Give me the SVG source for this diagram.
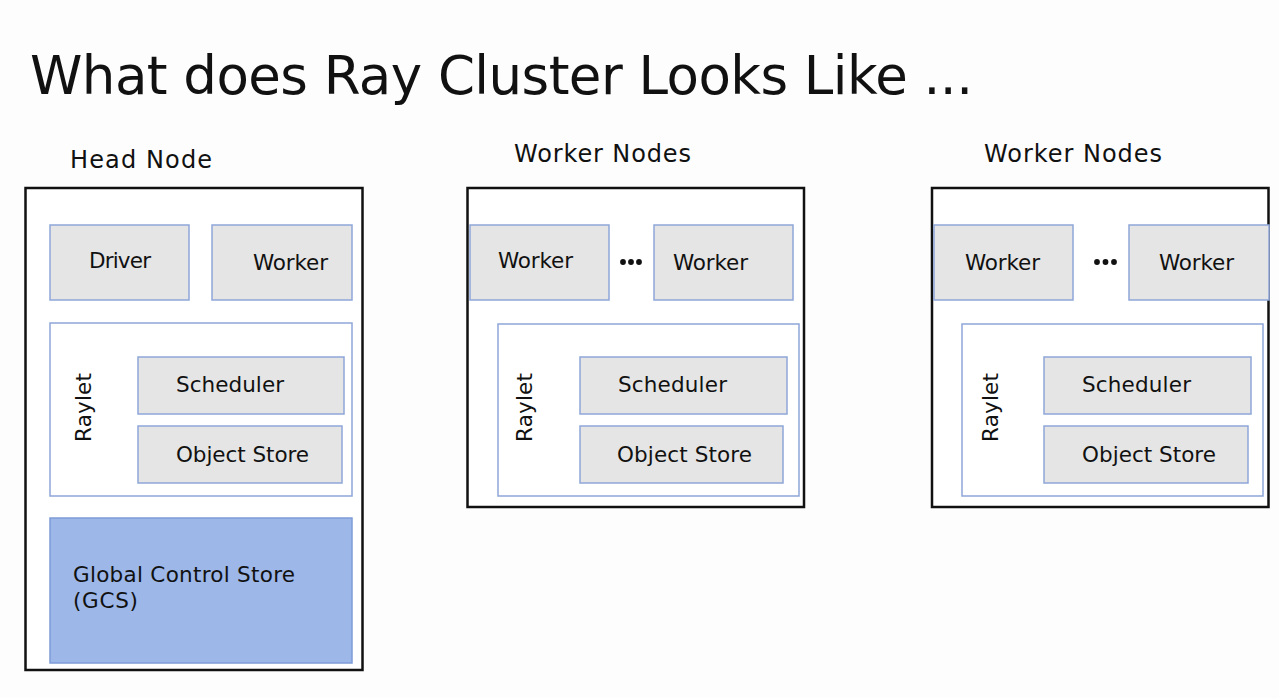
<svg xmlns="http://www.w3.org/2000/svg" width="1279" height="698" viewBox="0 0 1279 698">
  <style>
    text { font-family: "DejaVu Sans", "Liberation Sans", sans-serif; fill: #111; font-weight: 400; }
    .title { font-size: 53px; }
    .hdr { font-size: 24px; }
    .lbl { font-size: 21.5px; }
    .outer { fill: #ffffff; stroke: #111; stroke-width: 2.5; }
    .box { fill: #e5e5e5; stroke: #8ea6d9; stroke-width: 1.5; }
    .raylet { fill: #ffffff; stroke: #8ea6d9; stroke-width: 1.5; }
    .gcs { fill: #9cb7e8; stroke: #7e9cd8; stroke-width: 1.5; }
    .dot { fill: #111; }
  </style>
  <rect x="0" y="0" width="1279" height="698" fill="#fdfdfd"/>
  <text class="title" x="30" y="94" textLength="943">What does Ray Cluster Looks Like ...</text>

  <g id="head-node">
    <text class="hdr" x="70" y="168" textLength="142">Head Node</text>
    <rect class="outer" x="25.5" y="188" width="337" height="482"/>
    <g id="head-driver">
      <rect class="box" x="50" y="225" width="139" height="75"/>
      <text class="lbl" x="89" y="268" textLength="62">Driver</text>
    </g>
    <g id="head-worker">
      <rect class="box" x="212" y="225" width="140" height="75"/>
      <text class="lbl" x="253" y="270" textLength="75">Worker</text>
    </g>
    <g id="head-raylet">
      <rect class="raylet" x="50" y="323" width="302" height="173"/>
      <text class="lbl" transform="translate(90.5,407.5) rotate(-90)" text-anchor="middle" textLength="69">Raylet</text>
      <g id="head-scheduler">
        <rect class="box" x="138" y="357" width="206" height="57"/>
        <text class="lbl" x="176" y="392" textLength="108">Scheduler</text>
      </g>
      <g id="head-objectstore">
        <rect class="box" x="138" y="426" width="204" height="57"/>
        <text class="lbl" x="176" y="462" textLength="133">Object Store</text>
      </g>
    </g>
    <g id="head-gcs">
      <rect class="gcs" x="50" y="518" width="302" height="145"/>
      <text class="lbl" x="73" y="582" textLength="222">Global Control Store</text>
      <text class="lbl" x="73" y="608" textLength="65">(GCS)</text>
    </g>
  </g>

  <g id="worker-nodes-1">
    <text class="hdr" x="514" y="162" textLength="177">Worker Nodes</text>
    <rect class="outer" x="467.5" y="188" width="336.5" height="319"/>
    <g id="wn1-worker-a">
      <rect class="box" x="470" y="225" width="139" height="75"/>
      <text class="lbl" x="498" y="268" textLength="75">Worker</text>
    </g>
    <g id="wn1-dots">
      <circle class="dot" cx="623" cy="262" r="2.9"/>
      <circle class="dot" cx="631" cy="262" r="2.9"/>
      <circle class="dot" cx="639" cy="262" r="2.9"/>
    </g>
    <g id="wn1-worker-b">
      <rect class="box" x="654" y="225" width="139" height="75"/>
      <text class="lbl" x="673" y="270" textLength="75">Worker</text>
    </g>
    <g id="wn1-raylet">
      <rect class="raylet" x="498" y="324" width="301" height="172"/>
      <text class="lbl" transform="translate(532,407.5) rotate(-90)" text-anchor="middle" textLength="69">Raylet</text>
      <g id="wn1-scheduler">
        <rect class="box" x="580" y="357" width="207" height="57"/>
        <text class="lbl" x="618" y="392" textLength="109">Scheduler</text>
      </g>
      <g id="wn1-objectstore">
        <rect class="box" x="580" y="426" width="203" height="57"/>
        <text class="lbl" x="617" y="462" textLength="135">Object Store</text>
      </g>
    </g>
  </g>

  <g id="worker-nodes-2">
    <text class="hdr" x="984" y="162" textLength="178">Worker Nodes</text>
    <rect class="outer" x="932" y="188" width="336.5" height="319"/>
    <g id="wn2-worker-a">
      <rect class="box" x="934" y="225" width="139" height="75"/>
      <text class="lbl" x="965" y="270" textLength="75">Worker</text>
    </g>
    <g id="wn2-dots">
      <circle class="dot" cx="1097" cy="262" r="2.9"/>
      <circle class="dot" cx="1105.5" cy="262" r="2.9"/>
      <circle class="dot" cx="1114" cy="262" r="2.9"/>
    </g>
    <g id="wn2-worker-b">
      <rect class="box" x="1129" y="225" width="140" height="75"/>
      <text class="lbl" x="1159" y="270" textLength="75">Worker</text>
    </g>
    <g id="wn2-raylet">
      <rect class="raylet" x="962" y="324" width="301" height="172"/>
      <text class="lbl" transform="translate(998,407.5) rotate(-90)" text-anchor="middle" textLength="69">Raylet</text>
      <g id="wn2-scheduler">
        <rect class="box" x="1044" y="357" width="207" height="57"/>
        <text class="lbl" x="1082" y="392" textLength="109">Scheduler</text>
      </g>
      <g id="wn2-objectstore">
        <rect class="box" x="1044" y="426" width="204" height="57"/>
        <text class="lbl" x="1082" y="462" textLength="134">Object Store</text>
      </g>
    </g>
  </g>

  <g id="connectors"></g>
</svg>
